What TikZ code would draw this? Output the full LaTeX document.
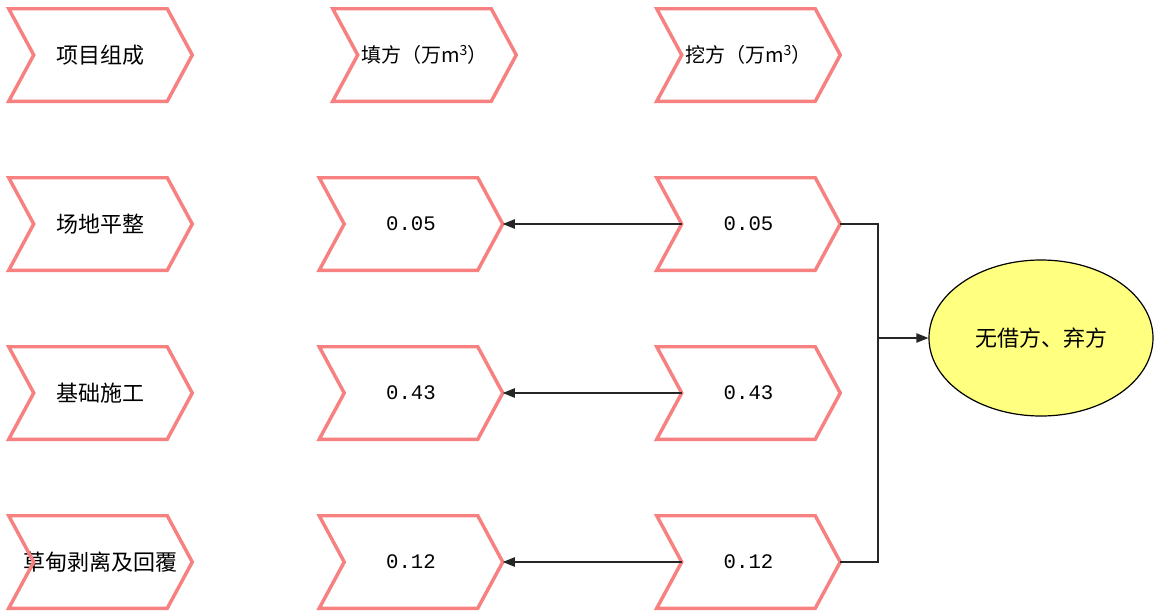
\documentclass[tikz,border=0pt]{standalone}
\usepackage{fontspec}
\setmainfont{Noto Sans CJK SC}
\newfontfamily\numfont{Liberation Mono}
\usetikzlibrary{calc,arrows.meta,shapes.geometric}
\definecolor{chevred}{RGB}{247,128,128}
\definecolor{paleyellow}{RGB}{255,255,128}
% outline of a chevron around a named cell node (notch and tip 25 units deep)
\newcommand\chevron[1]{%
  \draw[chevline] (#1.north west) -- ($(#1.north east)+(-25,0)$) -- (#1.east)
    -- ($(#1.south east)+(-25,0)$) -- (#1.south west) -- ($(#1.west)+(25,0)$) -- cycle;}
\begin{document}
\begin{tikzpicture}[x=0.75pt,y=-0.75pt,
  cell/.style={minimum width=137.25pt,minimum height=69pt,inner sep=0pt,
    font=\fontsize{16.5}{18}\selectfont},
  unitcell/.style={cell,font=\fontsize{15}{17}\selectfont},
  numcell/.style={cell,font=\numfont\fontsize{15.5}{17}\selectfont},
  chevline/.style={draw=chevred,line width=2.6pt},
  link/.style={draw=black!85,line width=0.9pt},
  arrowlink/.style={link,-{Triangle[length=9pt,width=7pt]}},
  result/.style={ellipse,draw=black,line width=0.9pt,fill=paleyellow,
    minimum width=168pt,minimum height=117pt,inner sep=0pt,
    font=\fontsize{16.5}{18}\selectfont}]
\useasboundingbox (0,0) rectangle (1154,611);

% header row
\node[cell] (h0) at (100.5,55) {项目组成};
\node[unitcell] (h1) at (424.5,55) {填方（万m\textsuperscript{3}）};
\node[unitcell] (h2) at (748.5,55) {挖方（万m\textsuperscript{3}）};

% project items
\node[cell] (p1) at (100.5,224) {场地平整};
\node[cell] (p2) at (100.5,393) {基础施工};
\node[cell] (p3) at (100.5,562) {草甸剥离及回覆};

% fill volumes
\node[numcell] (f1) at (411,224) {0.05};
\node[numcell] (f2) at (411,393) {0.43};
\node[numcell] (f3) at (411,562) {0.12};

% cut volumes
\node[numcell] (k1) at (748.5,224) {0.05};
\node[numcell] (k2) at (748.5,393) {0.43};
\node[numcell] (k3) at (748.5,562) {0.12};

\foreach \n in {h0,h1,h2,p1,p2,p3,f1,f2,f3,k1,k2,k3} {\chevron{\n}}

% balance result
\node[result] (res) at (1041,338) {无借方、弃方};

% cut used as fill
\foreach \i in {1,2,3} {
  \draw[arrowlink] ($(k\i.west)+(25,0)$) -- (f\i.east);
}

% collector line into the result
\coordinate (bus) at (878,338);
\draw[link] (k1.east) -| (bus) |- (k3.east);
\draw[arrowlink] (bus) -- (res.west);
\end{tikzpicture}
\end{document}
